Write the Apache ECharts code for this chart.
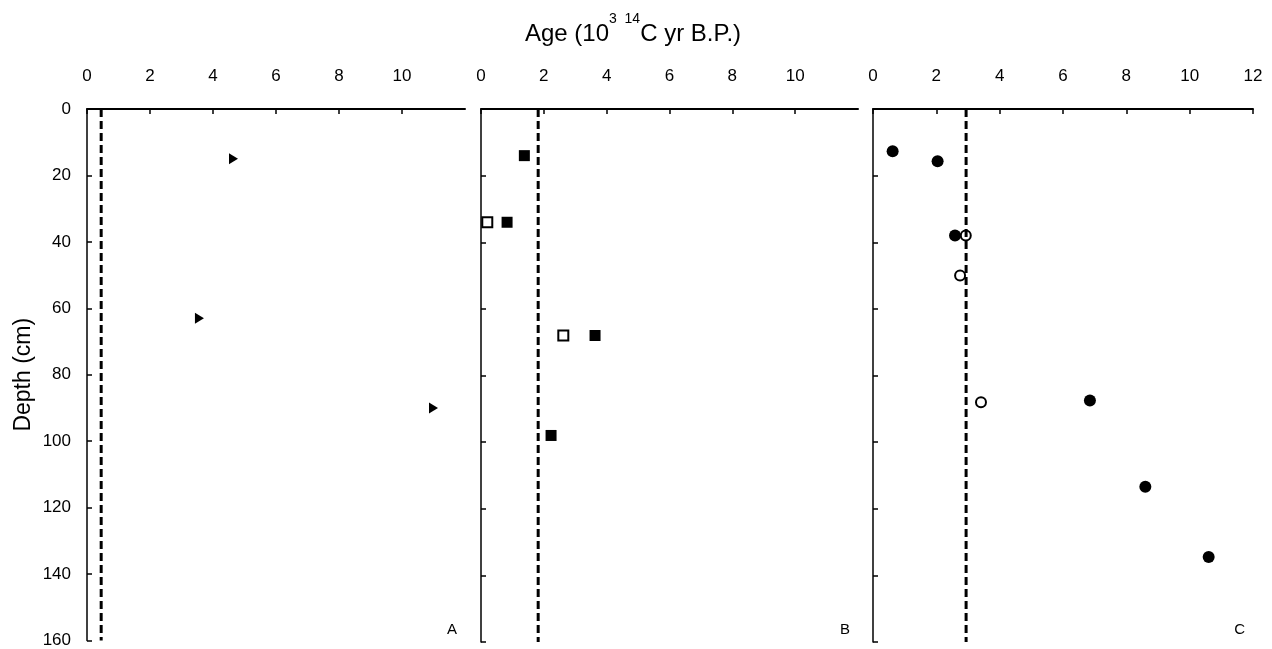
<!DOCTYPE html>
<html>
<head>
    <meta charset="utf-8">
    <title>Age vs depth</title>
    <script src="https://cdn.jsdelivr.net/npm/echarts@6/dist/echarts.min.js"></script>
    <style>
        html, body { margin: 0; padding: 0; background: #fff; }
        #chart { width: 1272px; height: 649px; }
    </style>
</head>
<body>
<div id="chart"></div>
<script type="text/javascript">
    // 各剖面数据 (年龄 10^3 14C yr B.P., 深度 cm)
    var ageTicks = [0, 2, 4, 6, 8, 10, 12];
    var depthTicks = [0, 20, 40, 60, 80, 100, 120, 140, 160];
    var panelNames = ['A', 'B', 'C'];

    // A: triangles
    var ageA = [4.65, 3.57, 11.0];
    var depthA = [15, 63, 90];

    // B: filled / open squares
    var ageBFilled = [1.38, 0.83, 3.63, 2.23];
    var depthBFilled = [14, 34, 68, 98];
    var ageBOpen = [0.2, 2.62];
    var depthBOpen = [34, 68];

    // C: filled / open circles
    var ageCFilled = [0.62, 2.04, 2.59, 6.85, 8.6, 10.6];
    var depthCFilled = [12.7, 15.7, 38, 87.5, 113.4, 134.5];
    var ageCOpen = [2.93, 2.75, 3.41];
    var depthCOpen = [38, 50, 88];

    // dashed reference lines
    var dashAge = [0.45, 1.82, 2.94];

    function pairs(xs, ys) {
        return xs.map(function (x, i) { return [x, ys[i]]; });
    }

    var font = 'Liberation Sans, Arial, sans-serif';
    var grids = [
        { left: 87, top: 109, width: 378, height: 533 },
        { left: 481, top: 109, width: 377, height: 533 },
        { left: 873, top: 109, width: 380, height: 533 }
    ];

    var xAxes = grids.map(function (g, i) {
        return {
            gridIndex: i, type: 'value', position: 'top',
            min: ageTicks[0], max: ageTicks[ageTicks.length - 1], interval: 2,
            axisLine: { onZero: false, lineStyle: { color: '#000', width: 2 } },
            axisTick: { inside: true, length: 5, lineStyle: { color: '#000', width: 1.5 } },
            axisLabel: { margin: 24, color: '#000', fontSize: 17, fontFamily: font, showMaxLabel: i === 2 },
            splitLine: { show: false }
        };
    });
    var yAxes = grids.map(function (g, i) {
        return {
            gridIndex: i, type: 'value', inverse: true,
            min: depthTicks[0], max: depthTicks[depthTicks.length - 1], interval: 20,
            axisLine: { onZero: false, lineStyle: { color: '#000', width: 1.5 } },
            axisTick: { inside: true, length: 5, lineStyle: { color: '#000', width: 1.5 } },
            axisLabel: { show: i === 0, margin: 16, color: '#000', fontSize: 17, fontFamily: font },
            splitLine: { show: false },
            name: i === 0 ? 'Depth (cm)' : '',
            nameLocation: 'middle', nameRotate: 90, nameGap: 52,
            nameTextStyle: { color: '#000', fontSize: 23, fontFamily: font }
        };
    });

    var series = [];
    dashAge.forEach(function (a, i) {
        series.push({
            type: 'line', xAxisIndex: i, yAxisIndex: i, symbol: 'none', silent: true,
            data: [[a, depthTicks[0]], [a, depthTicks[depthTicks.length - 1]]],
            lineStyle: { color: '#000', width: 3, type: [8, 4] }
        });
    });
    series.push({
        type: 'scatter', xAxisIndex: 0, yAxisIndex: 0,
        symbol: 'path://M0,0 L10,5 L0,10 Z', symbolSize: [9, 11],
        itemStyle: { color: '#000', opacity: 1 },
        data: pairs(ageA, depthA)
    });
    series.push({
        type: 'scatter', xAxisIndex: 1, yAxisIndex: 1, symbol: 'rect', symbolSize: 11,
        itemStyle: { color: '#000', opacity: 1 },
        data: pairs(ageBFilled, depthBFilled)
    });
    series.push({
        type: 'scatter', xAxisIndex: 1, yAxisIndex: 1, symbol: 'rect', symbolSize: 10,
        itemStyle: { color: '#fff', borderColor: '#000', borderWidth: 2, opacity: 1 },
        data: pairs(ageBOpen, depthBOpen)
    });
    series.push({
        type: 'scatter', xAxisIndex: 2, yAxisIndex: 2, symbol: 'circle', symbolSize: 12,
        itemStyle: { color: '#000', opacity: 1 },
        data: pairs(ageCFilled, depthCFilled)
    });
    series.push({
        type: 'scatter', xAxisIndex: 2, yAxisIndex: 2, symbol: 'circle', symbolSize: 10,
        itemStyle: { color: 'rgba(255,255,255,0)', borderColor: '#000', borderWidth: 2, opacity: 1 },
        data: pairs(ageCOpen, depthCOpen)
    });

    var chart = echarts.init(document.getElementById('chart'));
    chart.setOption({
        animation: false,
        backgroundColor: '#fff',
        title: {
            left: 628, textAlign: 'center', top: 1,
            text: '{a|Age (10}{s|3  14}{a|C yr B.P.)}',
            textStyle: {
                rich: {
                    a: { fontSize: 24, fontWeight: 'normal', fontFamily: font, color: '#000', lineHeight: 40, verticalAlign: 'bottom' },
                    s: { fontSize: 14, fontWeight: 'normal', fontFamily: font, color: '#000', lineHeight: 40, verticalAlign: 'bottom', padding: [0, 0, 20, 0] }
                }
            }
        },
        grid: grids,
        xAxis: xAxes,
        yAxis: yAxes,
        graphic: panelNames.map(function (n, i) {
            return {
                type: 'text', right: 1272 - grids[i].left - grids[i].width + 8, top: 622,
                style: { text: n, fill: '#000', fontSize: 15, fontFamily: font }
            };
        }),
        series: series
    });
</script>
</body>
</html>
